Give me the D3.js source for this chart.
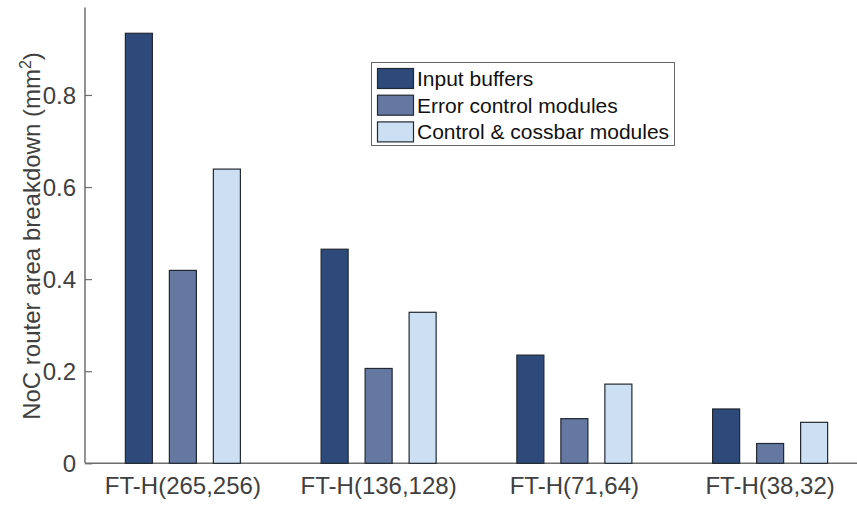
<!DOCTYPE html>
<html><head><meta charset="utf-8">
<script src="https://cdn.jsdelivr.net/npm/d3@7"></script>
<style>body{margin:0;background:#fff}svg{display:block}</style>
</head><body><svg id="c" width="857" height="506"></svg>
<script>
const categories = ["FT-H(265,256)", "FT-H(136,128)", "FT-H(71,64)", "FT-H(38,32)"];
const seriesNames = ["Input buffers", "Error control modules", "Control & cossbar modules"];
const inputBuffers = [0.934, 0.465, 0.235, 0.118];
const errorControl = [0.419, 0.206, 0.097, 0.043];
const controlCrossbar = [0.639, 0.328, 0.172, 0.089];
const yTicks = [0, 0.2, 0.4, 0.6, 0.8];
const colors = ["#2d4a7a", "#6478a2", "#cddff3"];

const values = [inputBuffers, errorControl, controlCrossbar];
const svg = d3.select("#c");
const font = "'Liberation Sans', Arial, sans-serif";
const txt = "#404040", axc = "#6e6e6e";

const x = d3.scaleBand().domain(categories).range([85, 868]).padding(0);
const sub = d3.scaleBand().domain(seriesNames).range([-66, 66]).paddingInner(0.386).paddingOuter(0.193);
const y = d3.scaleLinear().domain([0, 0.99]).range([463.3, 7.5]);

// axes
const yAxis = d3.axisLeft(y).tickValues(yTicks).tickSize(-7).tickPadding(9)
  .tickFormat(d => d === 0 ? "0" : d.toFixed(1));
const gy = svg.append("g").attr("transform", "translate(85,0)").call(yAxis);
gy.select(".domain").attr("stroke", axc).attr("stroke-width", 1.5).attr("d", `M0,${y.range()[1]}V${y(0)}`);
gy.selectAll(".tick line").attr("stroke", axc).attr("stroke-width", 1.2);
gy.selectAll(".tick text").attr("fill", txt).style("font-family", font).style("font-size", "24px").attr("dy", "0.36em");

const xAxis = d3.axisBottom(x).tickSize(-7).tickPadding(13);
const gx = svg.append("g").attr("transform", `translate(0,${y(0)})`).call(xAxis);
gx.select(".domain").attr("stroke", axc).attr("stroke-width", 1.5).attr("d", `M85,0H868`);
gx.selectAll(".tick line").attr("stroke", axc).attr("stroke-width", 1.2);
gx.selectAll(".tick text").attr("fill", txt).style("font-family", font).style("font-size", "24px").attr("dy", "0.75em");

// bars
seriesNames.forEach((s, si) => {
  svg.append("g").selectAll("rect").data(values[si]).join("rect")
    .attr("x", (d, i) => x(categories[i]) + x.bandwidth() / 2 + sub(s))
    .attr("width", sub.bandwidth())
    .attr("y", d => y(d))
    .attr("height", d => y(0) - y(d))
    .attr("fill", colors[si])
    .attr("stroke", "#222831").attr("stroke-width", 1.2);
});

// y label
svg.append("text")
  .attr("transform", "translate(40,236) rotate(-90)")
  .attr("text-anchor", "middle").attr("fill", txt)
  .style("font-family", font).style("font-size", "24px")
  .html('NoC router area breakdown (mm<tspan dy="-9" font-size="16px">2</tspan><tspan dy="9">)</tspan>');

// legend
const lg = svg.append("g");
lg.append("rect").attr("x", 371.5).attr("y", 62.5).attr("width", 303).attr("height", 83)
  .attr("fill", "#fff").attr("stroke", "#666").attr("stroke-width", 1);
seriesNames.forEach((s, i) => {
  const ry = 68.5 + i * 26.7;
  lg.append("rect").attr("x", 377.5).attr("y", ry).attr("width", 36).attr("height", 20)
    .attr("fill", colors[i]).attr("stroke", "#222831").attr("stroke-width", 1.2);
  lg.append("text").attr("x", 417).attr("y", ry + 17.5).attr("fill", "#111")
    .style("font-family", font).style("font-size", "21px").text(s);
});
</script></body></html>
